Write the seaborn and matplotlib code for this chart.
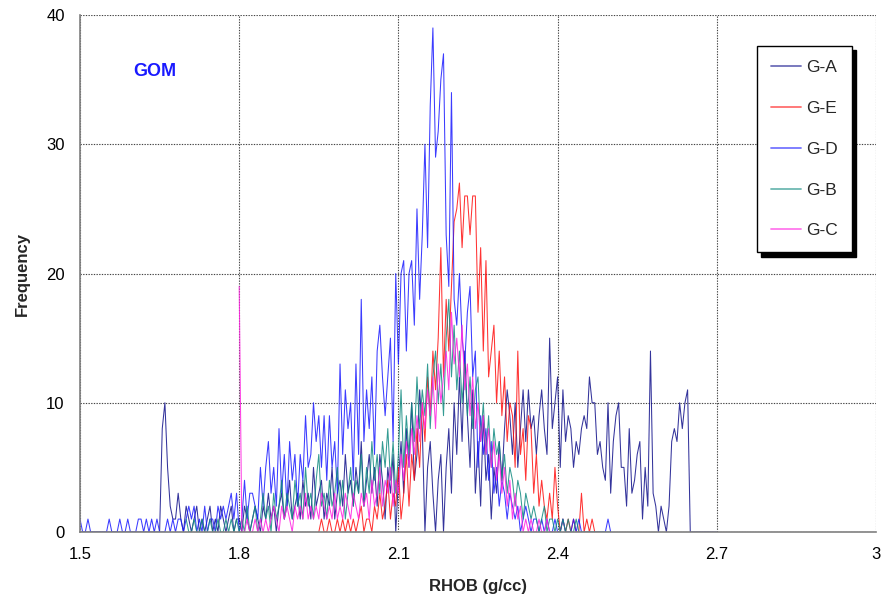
import numpy as np
import pandas as pd
import matplotlib
matplotlib.use("Agg")
import matplotlib.pyplot as plt
from matplotlib.lines import Line2D
import seaborn as sns

# ---------------- data ----------------
series_names = ["G-A", "G-E", "G-D", "G-B", "G-C"]
series_colors = ["#10108a", "#ff1010", "#1a1aff", "#108a80", "#ff20e0"]
bin_step = 0.005  # g/cc

ga_start = 1.500
ga_freq = [0] * 30 + [
    0, 8, 10, 5, 2, 1, 1, 3, 1, 0,
    2, 1, 0, 1, 2, 0, 1, 0, 1, 2,
    0, 1, 0, 2, 1, 0, 1, 2, 0, 1,
    1, 0, 2, 1, 0, 1, 2, 1, 0, 2,
    1, 3, 1, 2, 0, 2, 3, 1, 2, 4,
    1, 2, 3, 1, 4, 2, 3, 1, 5, 2,
    3, 4, 1, 3, 2, 5, 1, 3, 4, 2,
    6, 3, 4, 2, 5, 3, 7, 2, 4, 6,
    3, 5, 2, 6, 4, 1, 5, 3, 6, 0,
    4, 7, 3, 8, 5, 10, 4, 6, 11, 8,
    0, 5, 7, 3, 0, 4, 6, 0, 5, 8,
    3, 10, 6, 12, 7, 14, 9, 5, 11, 3,
    7, 2, 9, 4, 6, 1, 5, 3, 7, 4,
    8, 11, 9, 6, 10, 5, 8, 11, 7, 11,
    8, 9, 6, 9, 11, 8, 6, 15, 8, 10,
    12, 5, 11, 7, 9, 8, 5, 7, 6, 8,
    9, 8, 12, 10, 10, 6, 7, 5, 4, 10,
    3, 7, 9, 10, 5, 5, 2, 8, 3, 4,
    6, 7, 1, 5, 2, 14, 3, 2, 0, 2,
    1, 0, 2, 7, 8, 7, 10, 8, 10, 11,
    0, 0, 0, 0, 0, 0, 0, 0, 0, 0, 0]

ge_start = 1.950
ge_freq = [
    0, 1, 0, 0, 1, 0, 0, 1, 0, 1,
    0, 1, 0, 1, 0, 1, 2, 0, 1, 1,
    0, 2, 1, 3, 1, 2, 4, 1, 3, 2,
    5, 1, 3, 6, 2, 6, 4, 8, 5, 10,
    7, 12, 9, 14, 11, 15, 22, 12, 18, 14,
    19, 24, 25, 27, 22, 26, 26, 23, 26, 26,
    17, 22, 14, 21, 12, 14, 16, 10, 14, 9,
    12, 7, 10, 9, 5, 14, 6, 8, 4, 9,
    8, 3, 6, 2, 4, 2, 1, 3, 1, 5,
    2, 0, 1, 0, 1, 0, 1, 0, 0, 3,
    0, 1, 0, 1, 0]

gd_start = 1.500
gd_freq = [
    1, 0, 0, 1, 0, 0, 0, 0, 0, 0,
    0, 1, 0, 0, 0, 1, 0, 0, 1, 0,
    0, 0, 1, 1, 0, 1, 0, 1, 0, 1,
    0, 0, 0, 1, 0, 1, 0, 1, 1, 0,
    1, 2, 1, 2, 0, 1, 0, 2, 0, 1,
    1, 0, 2, 1, 2, 1, 2, 3, 1, 3,
    0, 1, 4, 1, 3, 3, 2, 1, 5, 2,
    5, 7, 3, 5, 2, 8, 3, 6, 2, 7,
    4, 6, 2, 6, 4, 9, 5, 6, 10, 7,
    9, 5, 9, 4, 9, 5, 7, 3, 13, 6,
    11, 8, 10, 4, 13, 6, 18, 7, 11, 8,
    12, 6, 14, 16, 12, 9, 12, 15, 7, 20,
    13, 20, 21, 14, 20, 21, 16, 25, 18, 23,
    30, 22, 33, 39, 29, 31, 35, 37, 23, 19,
    34, 18, 16, 20, 15, 13, 17, 19, 12, 14,
    5, 9, 6, 8, 4, 7, 3, 5, 2, 4,
    3, 1, 3, 2, 1, 2, 0, 1, 2, 1,
    0, 1, 1, 0, 1, 0, 1, 0, 0, 1,
    0, 0, 1, 0, 0, 0, 1, 0, 1, 0,
    0, 0, 0, 0, 0, 0, 0, 0, 0, 1,
    0]

gb_start = 1.700
gb_freq = [
    1, 0, 0, 1, 0, 0, 1, 0, 0, 1,
    0, 0, 1, 0, 0, 1, 0, 1, 0, 1,
    0, 1, 0, 2, 0, 1, 2, 0, 1, 3,
    1, 2, 0, 3, 1, 2, 4, 1, 3, 2,
    1, 4, 2, 3, 1, 5, 2, 3, 1, 4,
    6, 2, 3, 1, 4, 2, 3, 5, 2, 4,
    1, 3, 5, 2, 4, 3, 6, 2, 5, 3,
    7, 4, 6, 3, 7, 5, 8, 4, 7, 3,
    6, 11, 5, 9, 6, 10, 7, 12, 8, 11,
    9, 13, 8, 12, 14, 10, 13, 9, 15, 18,
    12, 16, 11, 14, 10, 13, 9, 12, 8, 11,
    12, 7, 10, 6, 9, 5, 8, 6, 7, 4,
    6, 3, 5, 4, 2, 4, 3, 1, 3, 2,
    1, 2, 1, 0, 1, 2, 0, 1, 1, 0,
    1, 0, 1, 0, 1, 0, 0, 1, 0, 0,
    0, 0, 0, 0, 0, 0, 0, 0, 0, 0, 0]

gc_start = 1.800
gc_freq = [
    19, 0, 0, 1, 0, 0, 1, 0, 1, 0,
    1, 0, 1, 2, 1, 0, 2, 1, 2, 1,
    0, 2, 1, 2, 1, 3, 1, 2, 1, 2,
    1, 3, 2, 1, 2, 1, 3, 1, 2, 1,
    3, 2, 1, 3, 2, 1, 3, 2, 3, 1,
    4, 2, 3, 5, 2, 4, 3, 5, 2, 4,
    3, 6, 4, 7, 5, 8, 6, 9, 7, 10,
    8, 11, 9, 12, 8, 13, 10, 12, 14, 11,
    17, 13, 15, 12, 16, 11, 13, 9, 12, 8,
    10, 7, 9, 6, 8, 5, 7, 4, 6, 3,
    5, 2, 4, 1, 3, 1, 2, 0, 1, 0,
    1, 0, 0, 1, 0, 0, 1, 0, 0, 0, 0]

x_ticks = [1.5, 1.8, 2.1, 2.4, 2.7, 3.0]
x_tick_labels = ["1.5", "1.8", "2.1", "2.4", "2.7", "3"]
y_ticks = [0, 10, 20, 30, 40]

# ---------------- build long-form table ----------------
frames = []
for name, start, vals in zip(series_names,
                             [ga_start, ge_start, gd_start, gb_start, gc_start],
                             [ga_freq, ge_freq, gd_freq, gb_freq, gc_freq]):
    rhob = np.round(start + bin_step * np.arange(len(vals)), 4)
    frames.append(pd.DataFrame({"RHOB": rhob, "Frequency": vals, "Group": name}))
df = pd.concat(frames, ignore_index=True)

# ---------------- plot ----------------
sns.set_style("white")
plt.rcParams["font.family"] = ["Liberation Sans", "DejaVu Sans"]

W, H = 894, 607
fig = plt.figure(figsize=(W / 100, H / 100), dpi=100)
ax = fig.add_axes([80 / W, 1 - 532 / H, 796 / W, 517 / H])

palette = dict(zip(series_names, series_colors))
sns.lineplot(data=df, x="RHOB", y="Frequency", hue="Group",
             hue_order=series_names, palette=palette, estimator=None,
             sort=False, linewidth=0.75, alpha=0.85, legend=False, ax=ax)

ax.set_xlim(1.5, 3.0)
ax.set_ylim(0, 40)
ax.set_xticks(x_ticks)
ax.set_xticklabels(x_tick_labels)
ax.set_yticks(y_ticks)
ax.tick_params(axis="both", labelsize=12, length=5, width=1, color="#808080",
               direction="out", pad=6, labelcolor="black")
ax.grid(True, linestyle=(0, (1.2, 1.2)), color="#444444", linewidth=0.8)
ax.set_axisbelow(True)
for s in ["top", "right"]:
    ax.spines[s].set_visible(False)
for s in ["left", "bottom"]:
    ax.spines[s].set_color("#808080")
    ax.spines[s].set_linewidth(1.2)

ax.set_xlabel("RHOB (g/cc)", fontsize=12, fontweight="bold", labelpad=12)
ax.set_ylabel("Frequency", fontsize=12, fontweight="bold", labelpad=12)

ax.text(1.641, 35.6, "GOM", color="#1a1aff", fontsize=13, fontweight="bold",
        ha="center", va="center")

handles = [Line2D([0], [0], color=c, linewidth=1.3, alpha=0.6) for c in series_colors]
leg = ax.legend(handles, series_names, loc="upper right",
                bbox_to_anchor=(0.970, 0.940), fontsize=12.5, frameon=True,
                fancybox=False, edgecolor="black", framealpha=1,
                shadow={"ox": 3, "oy": -3, "facecolor": "black",
                        "edgecolor": "black", "alpha": 1},
                labelspacing=1.48, borderpad=0.8, handlelength=1.75,
                handletextpad=0.3, borderaxespad=0)
leg.get_frame().set_linewidth(1.0)

fig.savefig("out.png", dpi=100)
